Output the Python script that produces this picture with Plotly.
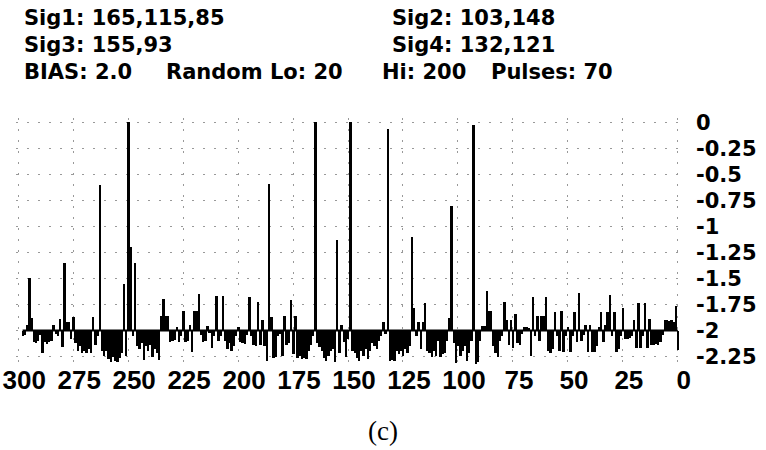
import plotly.graph_objects as go

# header text of the instrument display
sig_left = ["Sig1: 165,115,85", "Sig3: 155,93"]
sig_right = ["Sig2: 103,148", "Sig4: 132,121"]
info_parts = ["BIAS: 2.0", "Random Lo: 20", "Hi: 200", "Pulses: 70"]
panel_label = "(c)"

baseline = -2.0
x_ticks = [300, 275, 250, 225, 200, 175, 150, 125, 100, 75, 50, 25, 0]
y_ticks = [0, -0.25, -0.5, -0.75, -1, -1.25, -1.5, -1.75, -2, -2.25]
y_ticktext = ["0", "-0.25", "-0.5", "-0.75", "-1", "-1.25", "-1.5", "-1.75", "-2", "-2.25"]

# one sample per position, from x=298 down to x=0
x_vals = list(range(298, -1, -1))
signal = [
    -2.05, -2.04, -1.95, -1.50, -1.88, -2.11, -2.12, -2.10, -2.04, -2.22,   # 298-289
    -2.11, -2.13, -2.11, -2.10, -1.95, -2.03, -2.05, -1.89, -2.16, -1.35,   # 288-279
    -1.92, -1.92, -2.08, -1.87, -2.12, -2.20, -2.15, -2.22, -2.20, -2.22,   # 278-269
    -2.18, -2.22, -1.87, -2.14, -2.05, -0.60, -2.20, -2.24, -2.20, -2.27,   # 268-259
    -2.30, -2.25, -2.29, -2.30, -2.26, -2.22, -1.55, -2.24, 0.00, -1.20,    # 258-249
    -2.05, -1.35, -2.15, -2.18, -2.12, -2.28, -2.15, -2.20, -2.14, -2.25,   # 248-239
    -2.18, -2.22, -2.28, -1.86, -1.70, -1.86, -1.86, -2.11, -2.10, -2.09,   # 238-229
    -1.97, -2.11, -2.05, -1.81, -2.11, -2.10, -1.95, -2.21, -1.81, -1.81,   # 228-219
    -1.65, -2.04, -2.11, -2.10, -1.96, -2.02, -2.17, -2.05, -1.67, -2.10,   # 218-209
    -2.05, -1.67, -2.10, -2.18, -2.12, -2.20, -2.15, -2.05, -1.97, -2.11,   # 208-199
    -2.12, -2.13, -2.04, -1.68, -2.05, -2.14, -2.15, -1.73, -2.14, -1.90,   # 198-189
    -2.15, -2.29, -0.59, -1.87, -2.26, -2.25, -2.05, -2.03, -2.24, -1.86,   # 188-179
    -2.14, -2.12, -1.71, -2.23, -1.86, -2.26, -2.24, -2.27, -2.26, -2.27,   # 178-169
    -2.20, -2.14, -2.05, 0.00, -2.12, -2.16, -2.20, -2.26, -2.29, -2.24,    # 168-159
    -2.20, -2.18, -2.30, -1.13, -2.22, -1.95, -2.11, -2.25, -2.08, 0.00,    # 158-149
    -2.20, -2.22, -2.26, -2.29, -2.20, -2.24, -2.18, -2.27, -2.20, -2.12,   # 148-139
    -2.15, -2.18, -2.10, -2.05, -1.92, -2.03, -0.07, -2.29, -2.28, -2.29,   # 138-129
    -2.20, -2.23, -2.20, -2.24, -2.18, -2.22, -2.15, -1.10, -1.78, -2.05,   # 128-119
    -1.92, -2.18, -1.92, -1.74, -2.20, -2.22, -2.25, -2.20, -2.24, -2.10,   # 118-109
    -2.25, -2.23, -2.22, -2.10, -1.88, -0.80, -2.12, -2.31, -2.15, -2.24,   # 108-99
    -2.20, -2.15, -2.29, -2.22, -2.10, -0.03, -2.32, -2.30, -2.10, -1.96,   # 98-89
    -1.96, -1.62, -1.81, -1.81, -2.15, -2.22, -2.25, -2.10, -2.05, -1.73,   # 88-79
    -1.90, -2.14, -1.90, -2.17, -1.84, -2.12, -2.14, -2.03, -1.97, -1.97,   # 78-69
    -1.98, -2.24, -1.68, -2.05, -1.86, -2.10, -1.86, -1.86, -1.68, -2.20,   # 68-59
    -2.22, -2.18, -1.82, -2.05, -2.20, -1.81, -2.21, -2.05, -1.97, -2.21,   # 58-49
    -2.05, -1.82, -2.11, -1.64, -2.10, -2.04, -1.95, -2.21, -1.95, -2.21,   # 48-39
    -2.21, -2.15, -1.97, -1.82, -2.11, -1.95, -1.82, -1.66, -2.05, -1.82,   # 38-29
    -2.21, -2.18, -2.05, -1.78, -2.08, -2.08, -2.07, -2.05, -1.90, -2.17,   # 28-19
    -1.74, -2.17, -2.05, -1.74, -2.17, -1.89, -2.14, -2.14, -2.13, -2.14,   # 18-9
    -2.11, -2.04, -1.90, -1.90, -1.91, -1.90, -1.92, -1.76, -2.19,          # 8-0
]

txt_font = dict(family="DejaVu Sans", size=21, color="black")
xtick_font = dict(family="Liberation Sans", size=26, color="black")
ytick_font = dict(family="DejaVu Sans", size=21, color="black")

fig = go.Figure()
fig.add_trace(go.Bar(
    x=x_vals,
    y=[v - baseline for v in signal],
    base=baseline,
    width=0.9,
    marker=dict(color="black", line=dict(width=0)),
    showlegend=False,
    hoverinfo="skip",
))

# baseline
fig.add_shape(type="line", xref="x", yref="y", x0=max(x_vals), x1=min(x_vals),
              y0=baseline, y1=baseline, line=dict(color="black", width=2))

# header block (paper coords of the plot domain)
annots = []
for txt, yy in zip(sig_left, [1.40, 1.29]):
    annots.append(dict(text=txt, x=0.009, y=yy))
for txt, yy in zip(sig_right, [1.40, 1.29]):
    annots.append(dict(text=txt, x=0.563, y=yy))
for txt, xx in zip(info_parts, [0.009, 0.223, 0.548, 0.713]):
    annots.append(dict(text=txt, x=xx, y=1.183))
for a in annots:
    a["text"] = "<b>" + a["text"] + "</b>"
    fig.add_annotation(xref="paper", yref="paper", xanchor="left", yanchor="middle",
                       showarrow=False, font=txt_font, **a)
fig.add_annotation(text=panel_label, xref="paper", yref="paper", x=0.553, y=-0.25,
                   xanchor="center", yanchor="middle", showarrow=False,
                   font=dict(family="Liberation Serif", size=27, color="black"))

fig.update_xaxes(
    range=[301, -1], automargin=False,
    tickmode="array", tickvals=x_ticks,
    ticktext=["<b>%d</b>" % t for t in x_ticks],
    tickfont=xtick_font, tickangle=0, ticks="", ticklabeloverflow="allow",
    ticklabelshift=-6, ticklabelstandoff=-6,
    showline=False, zeroline=False,
    showgrid=True, gridcolor="#999999", gridwidth=1, griddash="2px,9px",
)
fig.update_yaxes(
    range=[-2.36, 0.04], side="right", automargin=False,
    tickmode="array", tickvals=y_ticks,
    ticktext=["<b>%s</b>" % t for t in y_ticktext],
    tickfont=ytick_font, ticks="", ticklabelstandoff=15,
    showline=False, zeroline=False,
    showgrid=True, gridcolor="#999999", gridwidth=1, griddash="2px,9px",
)
fig.update_layout(
    width=766, height=450,
    margin=dict(l=16, r=86, t=118, b=82),
    paper_bgcolor="white", plot_bgcolor="white",
    bargap=0,
)
# the page body has a default 8px margin; drop it so the figure fills the window
fig.write_html("out.html", config={"displayModeBar": False},
               post_script="document.body.style.margin='0px';")
